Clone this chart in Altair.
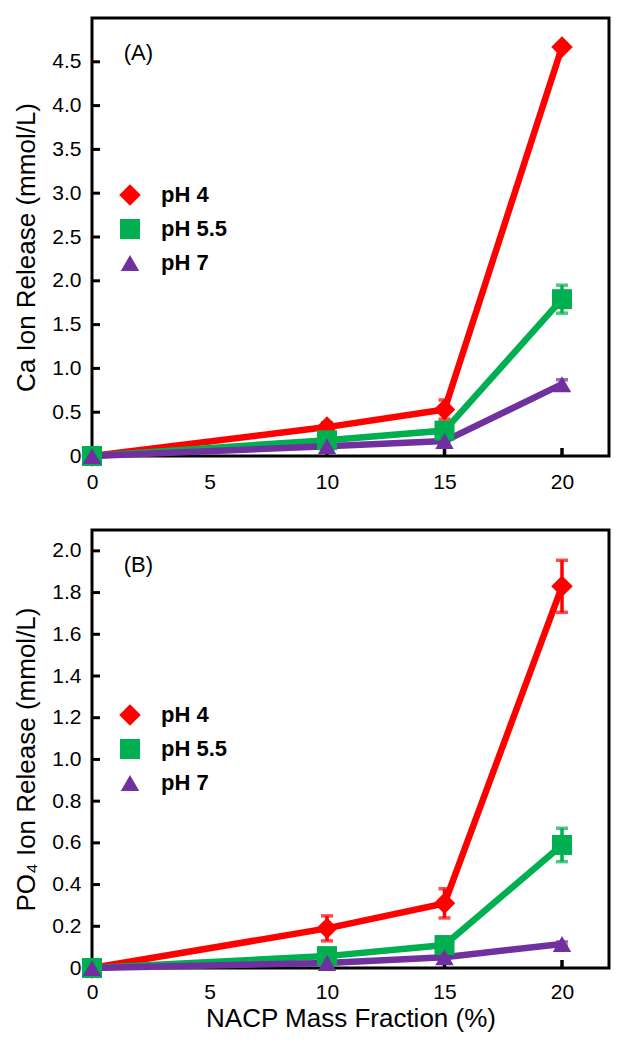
import altair as alt
import pandas as pd

# ---------------- data ----------------
x_vals = [0, 10, 15, 20]
series_names = ["pH 4", "pH 5.5", "pH 7"]
series_colors = ["#FF0000", "#00B050", "#7030A0"]
series_shapes = ["diamond", "square", "triangle-up"]
series_sizes = [460, 340, 300]

# Panel A: Ca ion release (mmol/L)
ca_ph4 = [0.0, 0.33, 0.53, 4.67]
ca_ph55 = [0.0, 0.18, 0.29, 1.79]
ca_ph7 = [0.0, 0.11, 0.17, 0.82]
ca_err_ph4 = [0.0, 0.05, 0.11, 0.03]
ca_err_ph55 = [0.0, 0.03, 0.04, 0.16]
ca_err_ph7 = [0.0, 0.02, 0.03, 0.05]

# Panel B: PO4 ion release (mmol/L)
po4_ph4 = [0.0, 0.19, 0.31, 1.83]
po4_ph55 = [0.0, 0.057, 0.11, 0.59]
po4_ph7 = [0.0, 0.024, 0.052, 0.115]
po4_err_ph4 = [0.0, 0.06, 0.07, 0.125]
po4_err_ph55 = [0.0, 0.01, 0.02, 0.08]
po4_err_ph7 = [0.0, 0.01, 0.01, 0.01]

x_tick_labels = [0, 5, 10, 15, 20]
x_inner_ticks = [10, 15, 20]
ca_ticks = [0, 0.5, 1.0, 1.5, 2.0, 2.5, 3.0, 3.5, 4.0, 4.5]
po4_ticks = [0, 0.2, 0.4, 0.6, 0.8, 1.0, 1.2, 1.4, 1.6, 1.8, 2.0]

FONT = "Liberation Sans"
W = 517


def make_df(vals, errs):
    rows = []
    for name, ys, es in zip(series_names, vals, errs):
        for x, y, e in zip(x_vals, ys, es):
            rows.append({"series": name, "x": x, "y": y, "err": e,
                         "lo": y - e, "hi": y + e})
    return pd.DataFrame(rows)


def panel(df, y_ticks, y_max, y_title, x_title, tag, tag_x, tag_y, height,
          legend_y, x_pad):
    xs = alt.Scale(domain=[0, 22], nice=False, zero=False)
    ys = alt.Scale(domain=[0, y_max], nice=False, zero=False)
    common = dict(labelFont=FONT, titleFont=FONT, labelFontSize=21, titleFontSize=26,
                  titleFontWeight="normal", labelColor="black", titleColor="black",
                  grid=False, ticks=False, tickSize=0, domain=False, labelFlush=False)
    x_axis = alt.Axis(values=x_tick_labels, labelPadding=x_pad,
                      title=x_title, titlePadding=3, **common)
    y_axis = alt.Axis(values=y_ticks, labelPadding=11, title=y_title,
                      titlePadding=12, titleY=height / 2 + 10,
                      labelExpr="datum.value == 0 ? '0' : format(datum.value, '.1f')",
                      **common)

    layers = []
    # inward ticks (y)
    layers.append(
        alt.Chart(pd.DataFrame({"v": y_ticks[1:]}))
        .mark_rule(color="black", strokeWidth=3, x2Offset=8)
        .encode(y=alt.Y("v:Q", scale=ys, axis=y_axis),
                x=alt.datum(0), x2=alt.datum(0))
    )
    # inward ticks (x)
    layers.append(
        alt.Chart(pd.DataFrame({"v": x_inner_ticks}))
        .mark_rule(color="black", strokeWidth=3.5, y2Offset=-8)
        .encode(x=alt.X("v:Q", scale=xs, axis=x_axis),
                y=alt.datum(0), y2=alt.datum(0))
    )
    for name, color in zip(series_names, series_colors):
        sdf = df[df["series"] == name]
        edf = sdf[sdf["err"] > 0]
        layers.append(
            alt.Chart(sdf).mark_line(color=color, strokeWidth=6.5)
            .encode(x=alt.X("x:Q", scale=xs, axis=x_axis),
                    y=alt.Y("y:Q", scale=ys, axis=y_axis))
        )
        layers.append(
            alt.Chart(edf).mark_rule(color=color, strokeWidth=3.5)
            .encode(x=alt.X("x:Q", scale=xs), y=alt.Y("lo:Q", scale=ys),
                    y2="hi:Q")
        )
        for col in ["lo", "hi"]:
            layers.append(
                alt.Chart(edf).mark_tick(color=color, thickness=3.5, size=12,
                                         orient="horizontal")
                .encode(x=alt.X("x:Q", scale=xs), y=alt.Y(f"{col}:Q", scale=ys))
            )
    legend = alt.Legend(title=None, orient="none", legendX=27, legendY=legend_y,
                        labelFontSize=22, labelFontWeight="bold", labelFont=FONT,
                        labelColor="black", rowPadding=12, labelOffset=20,
                        symbolStrokeWidth=0, symbolOpacity=1)
    layers.append(
        alt.Chart(df).mark_point(filled=True, opacity=1)
        .encode(
            x=alt.X("x:Q", scale=xs),
            y=alt.Y("y:Q", scale=ys),
            color=alt.Color("series:N", scale=alt.Scale(domain=series_names, range=series_colors), legend=legend),
            shape=alt.Shape("series:N", scale=alt.Scale(domain=series_names, range=series_shapes), legend=legend),
            size=alt.Size("series:N", scale=alt.Scale(domain=series_names, range=series_sizes), legend=legend),
        )
    )
    layers.append(
        alt.Chart(pd.DataFrame({"t": [tag]}))
        .mark_text(align="left", baseline="middle", fontSize=22, font=FONT, color="black")
        .encode(x=alt.datum(tag_x), y=alt.datum(tag_y), text="t:N")
    )
    return alt.layer(*layers).properties(width=W, height=height)


ca_df = make_df([ca_ph4, ca_ph55, ca_ph7], [ca_err_ph4, ca_err_ph55, ca_err_ph7])
po4_df = make_df([po4_ph4, po4_ph55, po4_ph7], [po4_err_ph4, po4_err_ph55, po4_err_ph7])

top = panel(ca_df, ca_ticks, 5.0, "Ca Ion Release (mmol/L)", None, "(A)",
            1.35, 4.6, 438, 166, 15)
bottom = panel(po4_df, po4_ticks, 2.1, "PO₄ Ion Release (mmol/L)",
               "NACP Mass Fraction (%)", "(B)", 1.35, 1.93, 438, 174, 13)

chart = (
    alt.vconcat(top, bottom, spacing=34)
    .resolve_scale(color="independent", shape="independent", size="independent")
    .properties(padding={"left": 4, "top": 8, "right": 4, "bottom": 4})
    .configure_view(stroke="black", strokeWidth=3)
)

chart.save("out.html", embed_options={"renderer": "svg", "actions": False})
